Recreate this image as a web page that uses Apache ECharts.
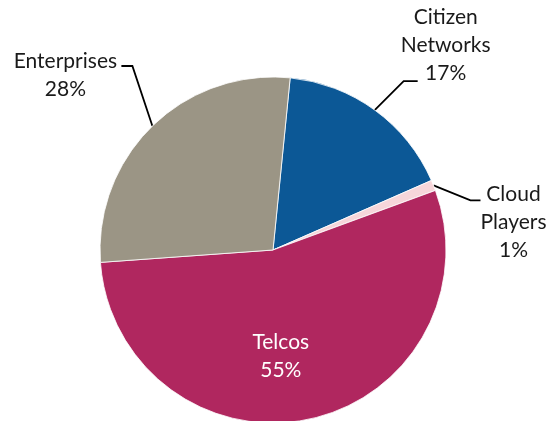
<!DOCTYPE html>
<html>
<head>
<meta charset="utf-8">
<script src="https://cdn.jsdelivr.net/npm/echarts@6/dist/echarts.min.js"></script>
<style>
  html, body { margin: 0; padding: 0; background: #fff; }
  #chart { width: 556px; height: 421px; }
</style>
</head>
<body>
<div id="chart"></div>
<script>
// Share of market by player type (percent)
const categories = ['Citizen\nNetworks', 'Cloud\nPlayers', 'Telcos', 'Enterprises'];
const shares = [17, 1, 55, 28];
const sliceColors = ['#0C5896', '#F6D6DA', '#B0275F', '#9B9585'];

// Leader-line bends and label placement for each outside label, relative to the slice edge
const leaderStyle = {
  'Citizen\nNetworks': { bend: [29, -29], tail: 14, labelDx: 28, labelDy: -78 },
  'Cloud\nPlayers':    { bend: [37, 15],  tail: 10, labelDx: 33, labelDy: -20 },
  'Enterprises':       { bend: [-20, -60], tail: -11, labelDx: -56, labelDy: -19 }
};

const chart = echarts.init(document.getElementById('chart'), null, { renderer: 'canvas' });

const data = categories.map((name, i) => {
  const item = { name: name, value: shares[i], itemStyle: { color: sliceColors[i] } };
  if (name === 'Telcos') {
    item.label = { position: 'inside', color: '#ffffff' };
    item.labelLine = { show: false };
  }
  return item;
});

chart.setOption({
  animation: false,
  series: [{
    type: 'pie',
    center: [273, 250],
    radius: 173,
    startAngle: 84.3,
    clockwise: true,
    avoidLabelOverlap: false,
    data: data,
    itemStyle: { borderColor: '#ffffff', borderWidth: 0.8 },
    label: {
      show: true,
      position: 'outside',
      formatter: p => p.name + '\n' + p.value + '%',
      fontFamily: 'Lato',
      fontSize: 21,
      lineHeight: 28,
      color: '#1a1a1a',
      align: 'center'
    },
    labelLine: {
      show: true,
      lineStyle: { color: '#000000', width: 1.8 }
    },
    labelLayout: function (params) {
      const name = categories[params.dataIndex];
      if (name === 'Telcos') {
        return { dx: -11, dy: 19 };
      }
      const s = leaderStyle[name];
      const pts = params.labelLinePoints;
      if (!s || !pts) return {};
      const p0 = pts[0];
      const p1 = [p0[0] + s.bend[0], p0[1] + s.bend[1]];
      const p2 = [p1[0] + s.tail, p1[1]];
      return {
        x: p2[0] + s.labelDx,
        y: p2[1] + s.labelDy,
        align: 'center',
        verticalAlign: 'top',
        labelLinePoints: [p0, p1, p2]
      };
    }
  }]
});
</script>
</body>
</html>
